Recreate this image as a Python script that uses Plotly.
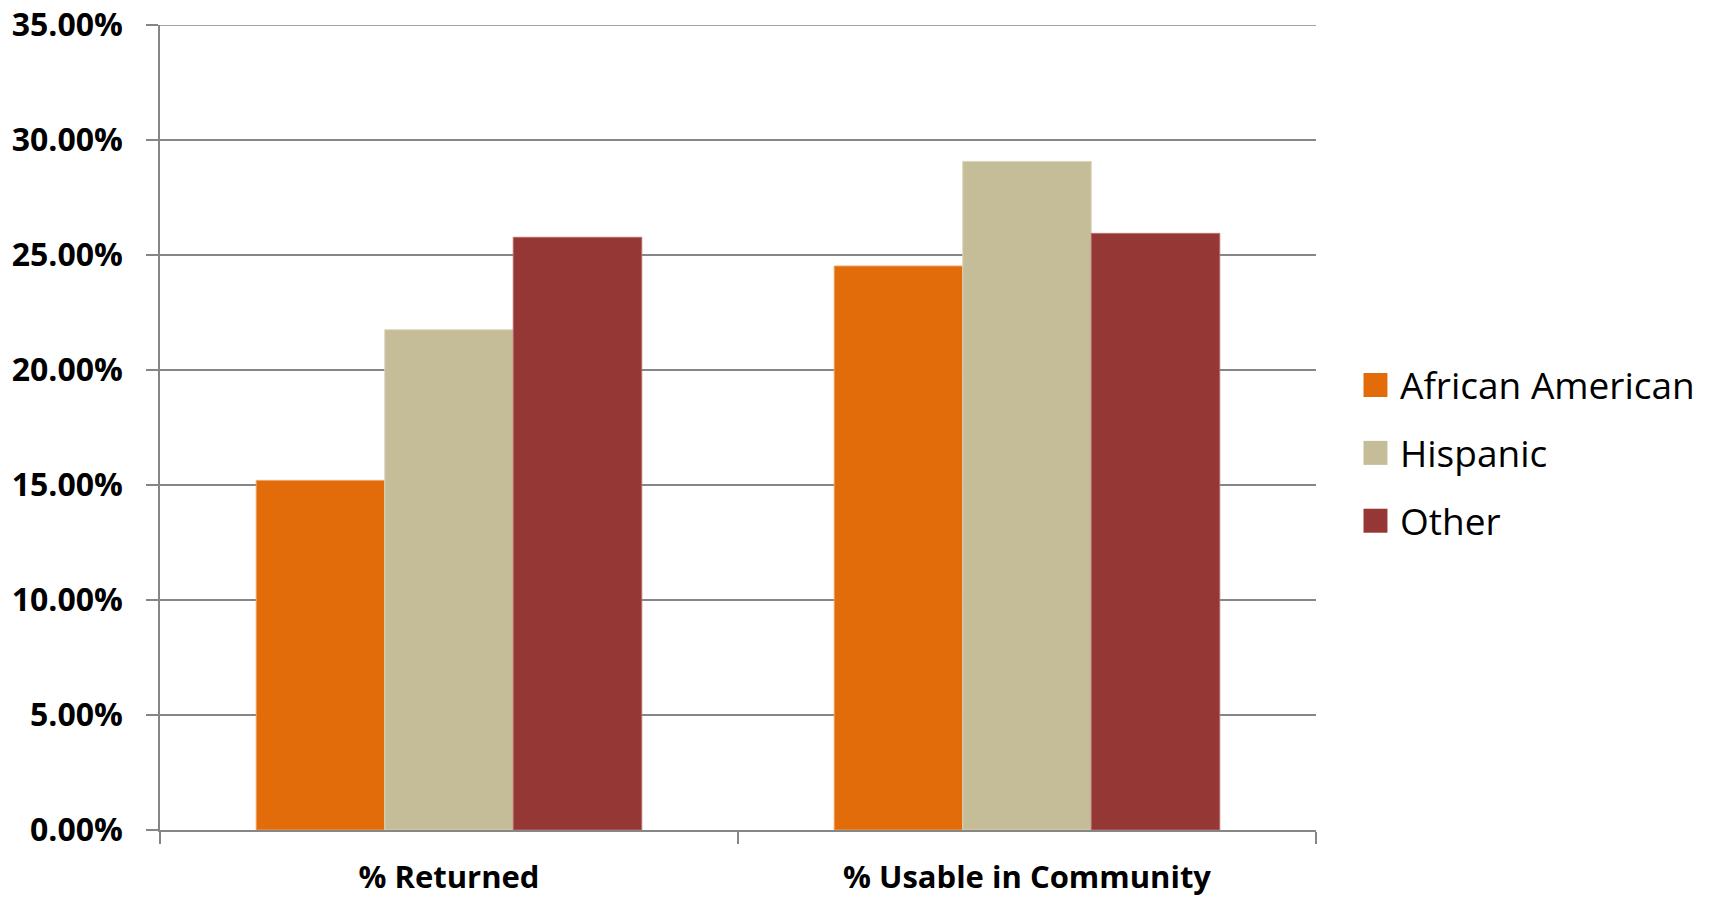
import plotly.graph_objects as go

categories = ["% Returned", "% Usable in Community"]
series_names = ["African American", "Hispanic", "Other"]
african_american = [0.152, 0.2452]
hispanic = [0.2175, 0.2907]
other = [0.2577, 0.2594]
colors = ["#E36C0A", "#C4BD97", "#953735"]
line_colors = ["#EDA060", "#DAD5BD", "#B86A68"]

y_ticks = [0, 0.05, 0.10, 0.15, 0.20, 0.25, 0.30, 0.35]
y_max = 0.35

fig = go.Figure()
for i, (name, vals) in enumerate(zip(series_names, [african_american, hispanic, other])):
    fig.add_trace(go.Bar(
        x=categories, y=vals, name=name,
        marker=dict(color=colors[i], line=dict(color=line_colors[i], width=1)),
        showlegend=False,
    ))

grid_col = "#868686"

# top gridline (plotly skips the gridline at the very end of the range)
fig.add_shape(type="line", xref="paper", yref="y", x0=0, x1=1, y0=y_max, y1=y_max,
              line=dict(color=grid_col, width=1.5), layer="below")

# legend drawn as swatches + labels on the right
leg_x0, leg_sw, leg_tx = 1.0411, 0.0207, 1.0713
leg_y0, leg_dy, leg_h = 0.5528, 0.0843, 0.0149
for i, name in enumerate(series_names):
    yc = leg_y0 - i * leg_dy
    fig.add_shape(type="rect", xref="paper", yref="paper",
                  x0=leg_x0, x1=leg_x0 + leg_sw, y0=yc - leg_h, y1=yc + leg_h,
                  fillcolor=colors[i], line=dict(width=0))
    fig.add_annotation(xref="paper", yref="paper", x=leg_tx, y=yc,
                       xanchor="left", yanchor="middle", text=name, showarrow=False,
                       font=dict(size=37, family="Open Sans", color="black"))

# page body has an 8px default margin, so the figure is 8px smaller
fig.update_layout(
    width=1703, height=890,
    margin=dict(l=151.5, r=394.5, t=17, b=68),
    paper_bgcolor="white", plot_bgcolor="white",
    barmode="group", bargap=0.333, bargroupgap=0,
    font=dict(family="Open Sans", color="black"),
    showlegend=False,
)
fig.update_yaxes(
    range=[0, y_max], tickvals=y_ticks, tickformat=".2%",
    showgrid=True, gridcolor=grid_col, gridwidth=1.5,
    showline=True, linecolor=grid_col, linewidth=1.5,
    ticks="outside", ticklen=12, tickcolor=grid_col, tickwidth=1.5,
    zeroline=False, automargin=False, ticklabeloverflow="allow",
    tickfont=dict(size=32, family="Open Sans", color="black", weight="bold"),
    ticklabelstandoff=17,
)
fig.update_xaxes(
    showline=True, linecolor=grid_col, linewidth=1.5,
    ticks="outside", tickson="boundaries", ticklen=12, tickcolor=grid_col, tickwidth=1.5,
    automargin=False, ticklabeloverflow="allow",
    tickfont=dict(size=31, family="Open Sans", color="black", weight="bold"),
    ticklabelstandoff=19,
)

fig.write_html("out.html")
